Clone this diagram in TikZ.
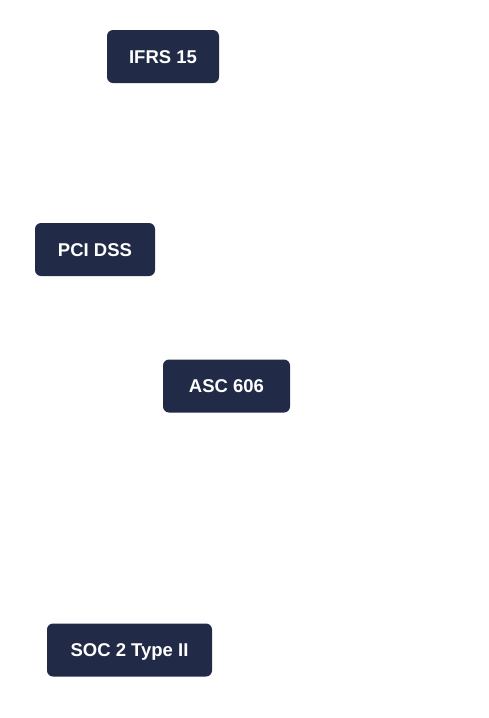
\documentclass[tikz,border=0pt]{standalone}
\usepackage{fontspec}
\setmainfont{Liberation Sans}
\definecolor{navy}{HTML}{212B47}
\begin{document}
\begin{tikzpicture}[x=1pt,y=-1pt,
  tag/.style={rectangle, rounded corners=6pt, fill=navy, draw=none, text=white,
    font=\fontsize{18.5}{22}\selectfont\bfseries, minimum height=53pt, inner sep=0pt,
    text height=13.2pt, text depth=0pt}]
\useasboundingbox (0,0) rectangle (488,718);
\fill[white] (0,0) rectangle (488,718);
\node[tag, minimum width=112pt] (ifrs) at (163,56.5) {IFRS 15};
\node[tag, minimum width=120pt] (pci) at (95,249.5) {PCI DSS};
\node[tag, minimum width=127pt] (asc) at (226.5,386) {ASC 606};
\node[tag, minimum width=165pt] (soc) at (129.5,650) {SOC 2 Type II};
\end{tikzpicture}
\end{document}
